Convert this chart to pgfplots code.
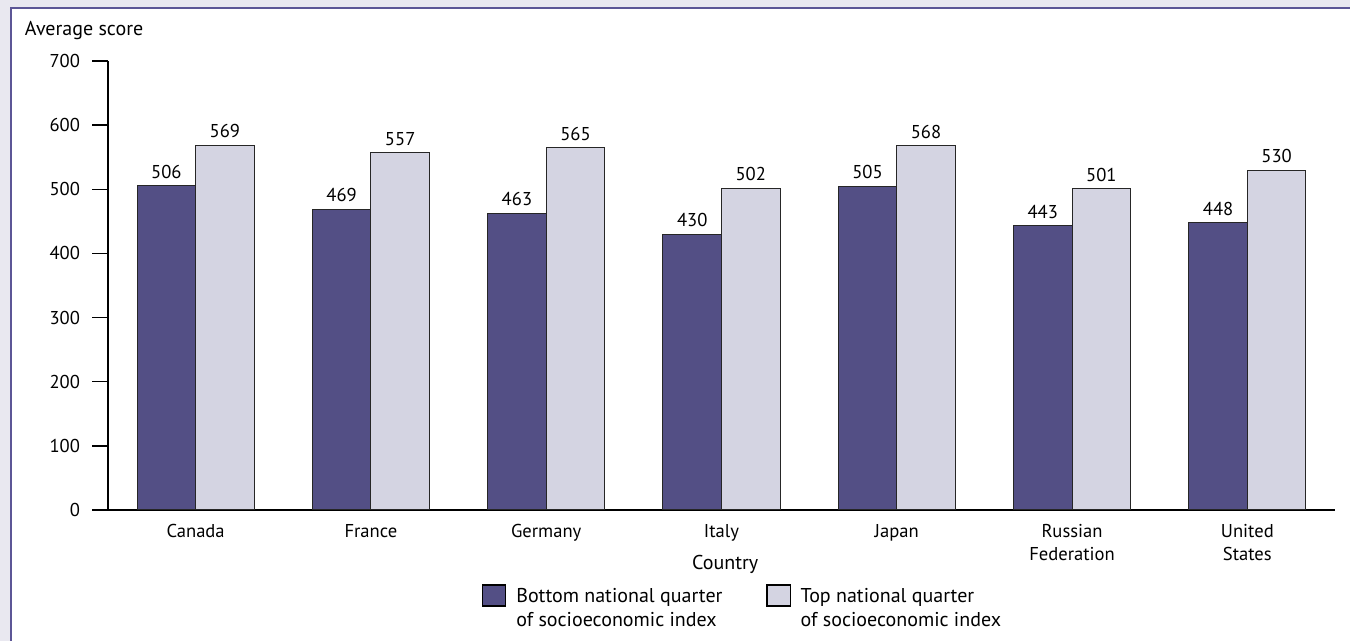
\documentclass[border=0pt]{standalone}
\usepackage{fontspec}
\setmainfont{PT Sans}
\usepackage{pgfplots}
\pgfplotsset{compat=1.18}
\definecolor{darkbar}{RGB}{83,79,133}
\definecolor{lightbar}{RGB}{212,212,226}
\definecolor{bgc}{RGB}{233,232,240}
\definecolor{framec}{RGB}{92,86,150}
\newcommand{\tickfont}{\fontsize{9.3}{11.5}\selectfont}
\newcommand{\titlefont}{\fontsize{10}{12}\selectfont}
\begin{document}
\begin{tikzpicture}
\fill[bgc] (0pt,0pt) rectangle (675pt,-320.5pt);
\fill[white] (5.5pt,-4pt) rectangle (675pt,-320.5pt);
\draw[framec, line width=1pt] (5.5pt,-320.5pt) -- (5.5pt,-4pt) -- (675pt,-4pt);
\node[anchor=base west, inner sep=0pt, font=\titlefont] at (12.3pt,-18pt) {Average score};
\begin{axis}[
  at={(54pt,-255pt)}, anchor=south west,
  scale only axis, width=613.5pt, height=224.5pt,
  xmin=-0.5, xmax=6.5, ymin=0, ymax=700,
  axis x line=bottom, axis y line=left,
  axis line style={-, black, line width=0.7pt},
  ytick={0,100,...,700},
  xtick={0,...,6},
  xticklabels={Canada, France, Germany, Italy, Japan, {Russian\\Federation}, {United\\States}},
  xtick style={draw=none},
  ytick style={black, line width=0.7pt},
  tick align=outside, major tick length=8pt,
  ticklabel style={font=\tickfont},
  xticklabel style={align=center, yshift=4.5pt},
  yticklabel style={xshift=-2.5pt},
  /pgf/number format/assume math mode=true,
  xlabel={Country},
  xlabel style={font=\titlefont, at={(axis description cs:0.503,-0.1336)}, anchor=base},
  ybar=0pt, bar width=0.334,
  nodes near coords,
  nodes near coords style={font=\tickfont, /pgf/number format/assume math mode=true},
  legend columns=2,
  legend style={draw=none, font=\titlefont, at={(axis description cs:0.518,-0.155)}, anchor=north,
    cells={align=left, anchor=west},
    /tikz/every odd column/.append style={column sep=3pt},
    /tikz/every even column/.append style={column sep=20pt}},
  legend image code/.code={\draw[#1, draw=black, line width=0.6pt] (0pt,1.25pt) rectangle (11.5pt,11.75pt);},
]
\addplot[fill=darkbar, draw=black!85, line width=0.5pt] coordinates {(0,506) (1,469) (2,463) (3,430) (4,505) (5,443) (6,448)};
\addplot[fill=lightbar, draw=black!85, line width=0.5pt] coordinates {(0,569) (1,557) (2,565) (3,502) (4,568) (5,501) (6,530)};
\legend{{Bottom national quarter\\of socioeconomic index}, {Top national quarter\\of socioeconomic index}}
\end{axis}
\pgfresetboundingbox
\useasboundingbox (0pt,0pt) rectangle (675pt,-320.5pt);
\end{tikzpicture}
\end{document}
